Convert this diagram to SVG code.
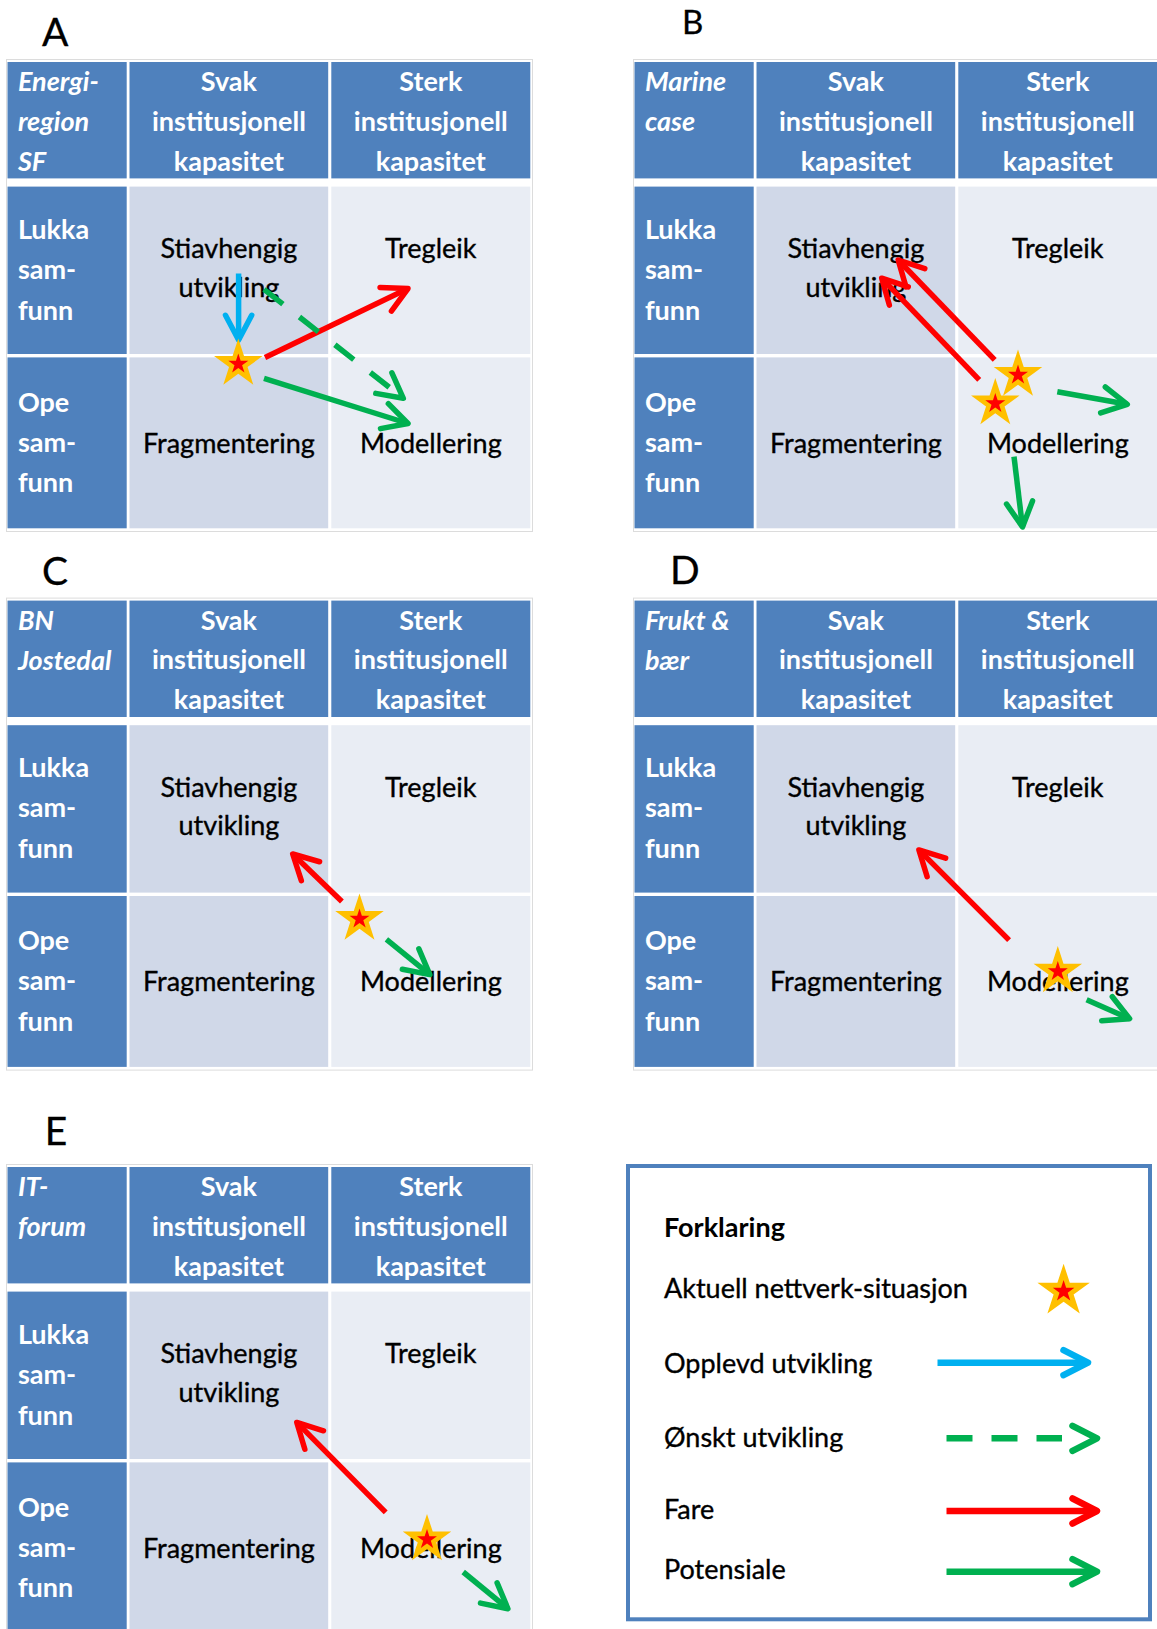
<svg xmlns="http://www.w3.org/2000/svg" width="1157" height="1629" viewBox="0 0 1157 1629">
  <style>
    text { font-family: Lato, "Open Sans", "Liberation Sans", sans-serif; font-size: 27px; }
    .hd { fill: #ffffff; font-weight: 700; text-anchor: middle; }
    .rh { fill: #ffffff; font-weight: 700; }
    .cn { fill: #ffffff; font-weight: 700; font-style: italic; }
    .ct { fill: #000000; stroke: #000000; stroke-width: 0.35; text-anchor: middle; }
    .lbl { fill: #000000; stroke: #000000; stroke-width: 0.3; font-size: 39px; }
    .lg { fill: #000000; stroke: #000000; stroke-width: 0.35; }
    .lgb { fill: #000000; font-weight: 700; }
    .hdr { fill: #4F81BD; }
    .c2 { fill: #D0D8E8; }
    .c3 { fill: #E9EDF4; }
    .arw { fill: none; stroke-width: 5.5; stroke-linecap: butt; }
    .leg { fill: none; stroke-width: 6.5; stroke-linecap: butt; }
    .blue { stroke: #00B0F0; }
    .red { stroke: #FF0000; }
    .green { stroke: #00B050; }
    .dash { stroke-dasharray: 24 21; }
    .ldash { stroke-dasharray: 26 19; }
    .mk { fill: none; stroke-linecap: round; stroke-linejoin: round; }
  </style>
  <defs>
    <!-- open chevron heads, fixed size in user units -->
    <marker id="hb" markerUnits="userSpaceOnUse" viewBox="-30 -20 40 40" markerWidth="40" markerHeight="40" refX="0" refY="0" orient="auto" overflow="visible">
      <path class="mk" d="M-24.7,-13.1 L0,0 L-24.7,13.1" stroke="#00B0F0" stroke-width="5.5"/>
    </marker>
    <marker id="hr" markerUnits="userSpaceOnUse" viewBox="-30 -20 40 40" markerWidth="40" markerHeight="40" refX="0" refY="0" orient="auto" overflow="visible">
      <path class="mk" d="M-24.7,-13.1 L0,0 L-24.7,13.1" stroke="#FF0000" stroke-width="5.5"/>
    </marker>
    <marker id="hg" markerUnits="userSpaceOnUse" viewBox="-30 -20 40 40" markerWidth="40" markerHeight="40" refX="0" refY="0" orient="auto" overflow="visible">
      <path class="mk" d="M-24.7,-13.1 L0,0 L-24.7,13.1" stroke="#00B050" stroke-width="5.5"/>
    </marker>
    <marker id="lb" markerUnits="userSpaceOnUse" viewBox="-30 -20 40 40" markerWidth="40" markerHeight="40" refX="0" refY="0" orient="auto" overflow="visible">
      <path class="mk" d="M-24.5,-12.5 L0,0 L-24.5,12.5" stroke="#00B0F0" stroke-width="6.5"/>
    </marker>
    <marker id="lr" markerUnits="userSpaceOnUse" viewBox="-30 -20 40 40" markerWidth="40" markerHeight="40" refX="0" refY="0" orient="auto" overflow="visible">
      <path class="mk" d="M-24.5,-12.5 L0,0 L-24.5,12.5" stroke="#FF0000" stroke-width="6.5"/>
    </marker>
    <marker id="lgm" markerUnits="userSpaceOnUse" viewBox="-30 -20 40 40" markerWidth="40" markerHeight="40" refX="0" refY="0" orient="auto" overflow="visible">
      <path class="mk" d="M-24.5,-12.5 L0,0 L-24.5,12.5" stroke="#00B050" stroke-width="6.5"/>
    </marker>

    <!-- five-point star: orange body with red core -->
    <g id="star">
      <polygon fill="#FFC000" points="0,-25.5 5.73,-7.88 24.25,-7.88 9.26,3.01 14.99,20.63 0,9.74 -14.99,20.63 -9.26,3.01 -24.25,-7.88 -5.73,-7.88"/>
      <polygon fill="#FF0000" points="0,-10.5 2.36,-3.24 9.99,-3.24 3.81,1.24 6.17,8.49 0,4.01 -6.17,8.49 -3.81,1.24 -9.99,-3.24 -2.36,-3.24"/>
    </g>

    <!-- shared 3x3 matrix: cells and fixed labels -->
    <g id="matrix">
      <rect x="6.5" y="59.5" width="526" height="472" fill="#ffffff" stroke="#DCDCDC" stroke-width="1"/>
      <rect class="hdr" x="7.5" y="62" width="119.2" height="116.4"/>
      <rect class="hdr" x="129.5" y="62" width="198.7" height="116.4"/>
      <rect class="hdr" x="331.3" y="62" width="199" height="116.4"/>
      <rect class="hdr" x="7.5" y="186.6" width="119.2" height="167.4"/>
      <rect class="c2" x="129.5" y="186.6" width="198.7" height="167.4"/>
      <rect class="c3" x="331.3" y="186.6" width="199" height="167.4"/>
      <rect class="hdr" x="7.5" y="357.4" width="119.2" height="170.9"/>
      <rect class="c2" x="129.5" y="357.4" width="198.7" height="170.9"/>
      <rect class="c3" x="331.3" y="357.4" width="199" height="170.9"/>

      <text class="hd" x="228.9" y="91.3">Svak</text>
      <text class="hd" x="228.9" y="130.9">institusjonell</text>
      <text class="hd" x="228.9" y="170.5">kapasitet</text>
      <text class="hd" x="430.8" y="91.3">Sterk</text>
      <text class="hd" x="430.8" y="130.9">institusjonell</text>
      <text class="hd" x="430.8" y="170.5">kapasitet</text>

      <text class="rh" x="17.9" y="238.6">Lukka</text>
      <text class="rh" x="17.9" y="278.9">sam-</text>
      <text class="rh" x="17.9" y="319.6">funn</text>
      <text class="rh" x="17.9" y="411.5">Ope</text>
      <text class="rh" x="17.9" y="451.8">sam-</text>
      <text class="rh" x="17.9" y="492.4">funn</text>

      <text class="ct" x="228.9" y="258.3">Stiavhengig</text>
      <text class="ct" x="228.9" y="296.8">utvikling</text>
      <text class="ct" x="430.8" y="258.3">Tregleik</text>
      <text class="ct" x="228.9" y="452.8">Fragmentering</text>
      <text class="ct" x="430.8" y="452.8">Modellering</text>
    </g>
  </defs>

  <rect width="1157" height="1629" fill="#ffffff"/>

  <!-- panel A -->
  <g id="panel-a">
    <text class="lbl" x="42" y="45.5">A</text>
    <use href="#matrix"/>
    <text class="cn" x="17.9" y="91.3">Energi-</text>
    <text class="cn" x="17.9" y="130.9">region</text>
    <text class="cn" x="17.9" y="170.5">SF</text>
  </g>

  <!-- panel B -->
  <g id="panel-b">
    <text class="lbl" x="682" y="34" style="font-size:33px">B</text>
    <use href="#matrix" transform="translate(627,0)"/>
    <text class="cn" x="644.9" y="91.3">Marine</text>
    <text class="cn" x="644.9" y="130.9">case</text>
  </g>

  <!-- panel C -->
  <g id="panel-c">
    <text class="lbl" x="42" y="585">C</text>
    <use href="#matrix" transform="translate(0,538.6)"/>
    <text class="cn" x="17.9" y="629.9">BN</text>
    <text class="cn" x="17.9" y="669.5">Jostedal</text>
  </g>

  <!-- panel D -->
  <g id="panel-d">
    <text class="lbl" x="670" y="584">D</text>
    <use href="#matrix" transform="translate(627,538.6)"/>
    <text class="cn" x="644.9" y="629.9">Frukt &amp;</text>
    <text class="cn" x="644.9" y="669.5">bær</text>
  </g>

  <!-- panel E -->
  <g id="panel-e">
    <text class="lbl" x="44.8" y="1145">E</text>
    <use href="#matrix" transform="translate(0,1105)"/>
    <text class="cn" x="17.9" y="1196.3">IT-</text>
    <text class="cn" x="17.9" y="1235.9">forum</text>
  </g>

  <!-- development arrows -->
  <g id="connectors">
    <!-- A -->
    <path class="arw blue" d="M238.6,273.5 L238.6,340" marker-end="url(#hb)"/>
    <path class="arw red" d="M265,357.5 L408,288.5" marker-end="url(#hr)"/>
    <path class="arw green dash" d="M264,289.3 L403.3,398.3" marker-end="url(#hg)"/>
    <path class="arw green" d="M264,378.3 L408,423.5" marker-end="url(#hg)"/>
    <!-- B -->
    <path class="arw red" d="M994.7,359.8 L898.2,260" marker-end="url(#hr)"/>
    <path class="arw red" d="M979.2,379.8 L881.7,278.2" marker-end="url(#hr)"/>
    <path class="arw green" d="M1057.3,391.7 L1127.3,404.3" marker-end="url(#hg)"/>
    <path class="arw green" d="M1014,456.7 L1022.5,527" marker-end="url(#hg)"/>
    <!-- C -->
    <path class="arw red" d="M341.9,901.6 L292.7,854" marker-end="url(#hr)"/>
    <path class="arw green" d="M386.4,939.4 L429.8,974.6" marker-end="url(#hg)"/>
    <!-- D -->
    <path class="arw red" d="M1009.1,940.1 L918.9,849.9" marker-end="url(#hr)"/>
    <path class="arw green" d="M1086.6,999.7 L1129.6,1018.7" marker-end="url(#hg)"/>
    <!-- E -->
    <path class="arw red" d="M385.7,1512.4 L296.8,1422.4" marker-end="url(#hr)"/>
    <path class="arw green" d="M463.2,1572 L507.9,1608.7" marker-end="url(#hg)"/>
  </g>

  <!-- current network situation -->
  <g id="situations">
    <use href="#star" transform="translate(238.3,364)"/>
    <use href="#star" transform="translate(1018,375)"/>
    <use href="#star" transform="translate(995.3,403.5)"/>
    <use href="#star" transform="translate(359.5,919)"/>
    <use href="#star" transform="translate(1057.8,971.6)"/>
    <use href="#star" transform="translate(427,1539.5)"/>
  </g>

  <!-- key -->
  <g id="legend">
    <rect x="628" y="1166" width="522" height="453.3" fill="#ffffff" stroke="#4F81BD" stroke-width="4"/>
    <text class="lgb" x="664" y="1237.3">Forklaring</text>
    <text class="lg" x="664" y="1298.3">Aktuell nettverk-situasjon</text>
    <use href="#star" transform="translate(1063.6,1291.3) scale(1.08)"/>
    <text class="lg" x="664" y="1372.7">Opplevd utvikling</text>
    <path class="leg blue" d="M937.5,1362.7 L1088,1362.7" marker-end="url(#lb)"/>
    <text class="lg" x="664" y="1447.3">Ønskt utvikling</text>
    <path class="leg green ldash" d="M946.5,1438.3 L1062,1438.3"/>
    <path d="M1080,1438.3 L1097,1438.3" fill="none" stroke="none" marker-end="url(#lgm)"/>
    <text class="lg" x="664" y="1519.3">Fare</text>
    <path class="leg red" d="M946.5,1511 L1097,1511" marker-end="url(#lr)"/>
    <text class="lg" x="664" y="1579.3">Potensiale</text>
    <path class="leg green" d="M946.5,1571.7 L1097,1571.7" marker-end="url(#lgm)"/>
  </g>
</svg>
